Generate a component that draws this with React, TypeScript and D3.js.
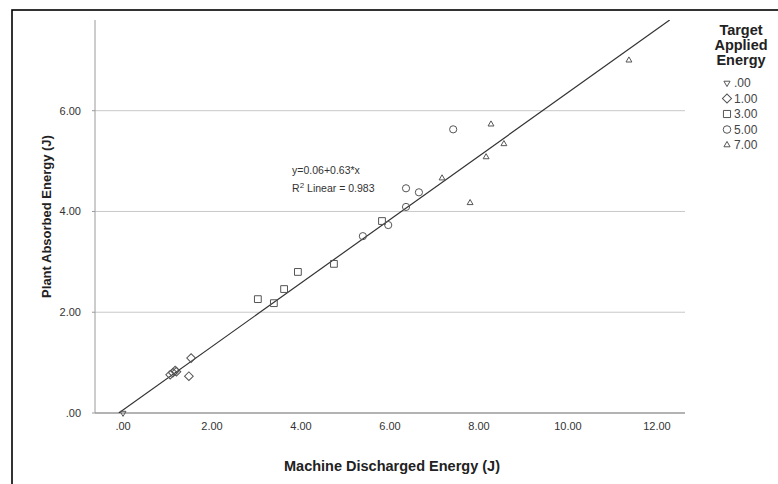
import React from 'react';
import * as d3 from 'd3';

// Target applied energy groups (legend order)
const groupLabels = ['.00', '1.00', '3.00', '5.00', '7.00'];

// Machine discharged energy (J) per group
const discharged00 = [0];
const discharged10 = [1.06, 1.12, 1.17, 1.2, 1.48, 1.53];
const discharged30 = [3.03, 3.39, 3.62, 3.93, 4.74, 5.82];
const discharged50 = [5.39, 5.96, 6.36, 6.36, 6.65, 7.42];
const discharged70 = [7.17, 7.8, 8.16, 8.27, 8.56, 11.37];

// Plant absorbed energy (J) per group
const absorbed00 = [0];
const absorbed10 = [0.76, 0.8, 0.84, 0.82, 0.73, 1.09];
const absorbed30 = [2.26, 2.18, 2.46, 2.8, 2.96, 3.81];
const absorbed50 = [3.51, 3.73, 4.09, 4.46, 4.38, 5.63];
const absorbed70 = [4.66, 4.17, 5.08, 5.73, 5.34, 7.0];

const xTicks = [0, 2, 4, 6, 8, 10, 12];
const yTicks = [0, 2, 4, 6];
const fitIntercept = 0.06;
const fitSlope = 0.63;
const fitR2 = '0.983';

const FONT = '"Liberation Sans", Arial, sans-serif';
const W = 778;
const H = 484;
const margin = { left: 95, top: 20, right: W - 685, bottom: H - 413 };

const tickFmt = (v: number) => (v === 0 ? '.00' : d3.format('.2f')(v));

const groups = [
  { label: groupLabels[0], xs: discharged00, ys: absorbed00, shape: 'down' },
  { label: groupLabels[1], xs: discharged10, ys: absorbed10, shape: 'diamond' },
  { label: groupLabels[2], xs: discharged30, ys: absorbed30, shape: 'square' },
  { label: groupLabels[3], xs: discharged50, ys: absorbed50, shape: 'circle' },
  { label: groupLabels[4], xs: discharged70, ys: absorbed70, shape: 'up' },
];

const Marker = ({ shape, x, y, k = 1 }: { shape: string; x: number; y: number; k?: number }) => {
  const common = { fill: 'none', stroke: '#555', strokeWidth: 1 };
  if (shape === 'circle') {
    return <circle cx={x} cy={y} r={3.6 * k} {...common} />;
  }
  if (shape === 'square') {
    const p = d3.symbol(d3.symbolSquare, 46 * k * k)();
    return <path d={p || ''} transform={`translate(${x},${y})`} {...common} />;
  }
  if (shape === 'diamond') {
    const p = d3.symbol(d3.symbolSquare, 38 * k * k)();
    return <path d={p || ''} transform={`translate(${x},${y}) rotate(45)`} {...common} />;
  }
  const p = d3.symbol(d3.symbolTriangle, 15 * k * k)();
  return (
    <path d={p || ''} transform={`translate(${x},${y})${shape === 'down' ? ' rotate(180)' : ''}`} {...common} />
  );
};

export default function App() {
  const innerW = W - margin.left - margin.right;
  const innerH = H - margin.top - margin.bottom;

  const xScale = d3.scaleLinear().domain([-0.63, 12.63]).range([0, innerW]);
  const yScale = d3.scaleLinear().domain([0, 7.8]).range([innerH, 0]);

  const x0 = -fitIntercept / fitSlope;
  const x1 = (7.8 - fitIntercept) / fitSlope;
  const fitLine = d3
    .line<number>()
    .x((d) => xScale(d))
    .y((d) => yScale(fitIntercept + fitSlope * d))([x0, x1]);

  return (
    <div style={{ position: 'fixed', left: 0, top: 0 }}>
      <svg width={W} height={H} style={{ display: 'block', fontFamily: FONT }}>
        <rect x={0} y={0} width={W} height={H} fill="#fff" />
        <rect x={12} y={10} width={W + 20} height={H + 20} fill="none" stroke="#000" strokeWidth={1.6} />
        <defs>
          <clipPath id="plot">
            <rect x={0} y={0} width={innerW} height={innerH} />
          </clipPath>
        </defs>
        <g transform={`translate(${margin.left},${margin.top})`}>
          {yTicks.filter((t) => t > 0).map((t) => (
            <line key={t} x1={0} x2={innerW} y1={yScale(t)} y2={yScale(t)} stroke="#c8c8c8" strokeWidth={1} />
          ))}
          <line x1={0} x2={0} y1={0} y2={innerH} stroke="#9a9a9a" strokeWidth={1} />
          <line x1={0} x2={innerW} y1={innerH} y2={innerH} stroke="#9a9a9a" strokeWidth={1.4} />
          {yTicks.map((t) => (
            <g key={t} transform={`translate(0,${yScale(t)})`}>
              <line x1={-3} x2={0} stroke="#9a9a9a" />
              <text x={-14} dy="0.35em" textAnchor="end" fontSize={11} fill="#333">
                {tickFmt(t)}
              </text>
            </g>
          ))}
          {xTicks.map((t) => (
            <g key={t} transform={`translate(${xScale(t)},${innerH})`}>
              <text y={17} textAnchor="middle" fontSize={11} fill="#333">
                {tickFmt(t)}
              </text>
            </g>
          ))}
          <path d={fitLine || ''} clipPath="url(#plot)" fill="none" stroke="#333" strokeWidth={1.2} />
          {groups.map((g) =>
            g.xs.map((v, i) => (
              <Marker key={`${g.label}-${i}`} shape={g.shape} x={xScale(v)} y={yScale(g.ys[i])} />
            ))
          )}
          <text x={xScale(3.8)} y={yScale(4.75)} fontSize={10.5} fill="#333">
            y=0.06+0.63*x
          </text>
          <text x={xScale(3.8)} y={yScale(4.38)} fontSize={10.5} fill="#333">
            R<tspan dy={-4} fontSize={8}>2</tspan>
            <tspan dy={4}> Linear = {fitR2}</tspan>
          </text>
        </g>
        <text x={392} y={471} textAnchor="middle" fontSize={14.5} fontWeight="bold" fill="#222">
          Machine Discharged Energy (J)
        </text>
        <text
          transform={`translate(51,${margin.top + innerH / 2}) rotate(-90)`}
          textAnchor="middle"
          fontSize={13}
          fontWeight="bold"
          fill="#222"
        >
          Plant Absorbed Energy (J)
        </text>
        <g fontWeight="bold" fontSize={14.5} fill="#222" textAnchor="middle">
          <text x={741} y={35}>Target</text>
          <text x={741} y={50}>Applied</text>
          <text x={741} y={65}>Energy</text>
        </g>
        {groups.map((g, i) => (
          <g key={g.label} transform={`translate(0,${83 + i * 15.5})`}>
            <Marker shape={g.shape} x={727} y={0} k={1.05} />
            <text x={734} dy="0.35em" fontSize={12} fill="#444">
              {g.label}
            </text>
          </g>
        ))}
      </svg>
    </div>
  );
}
